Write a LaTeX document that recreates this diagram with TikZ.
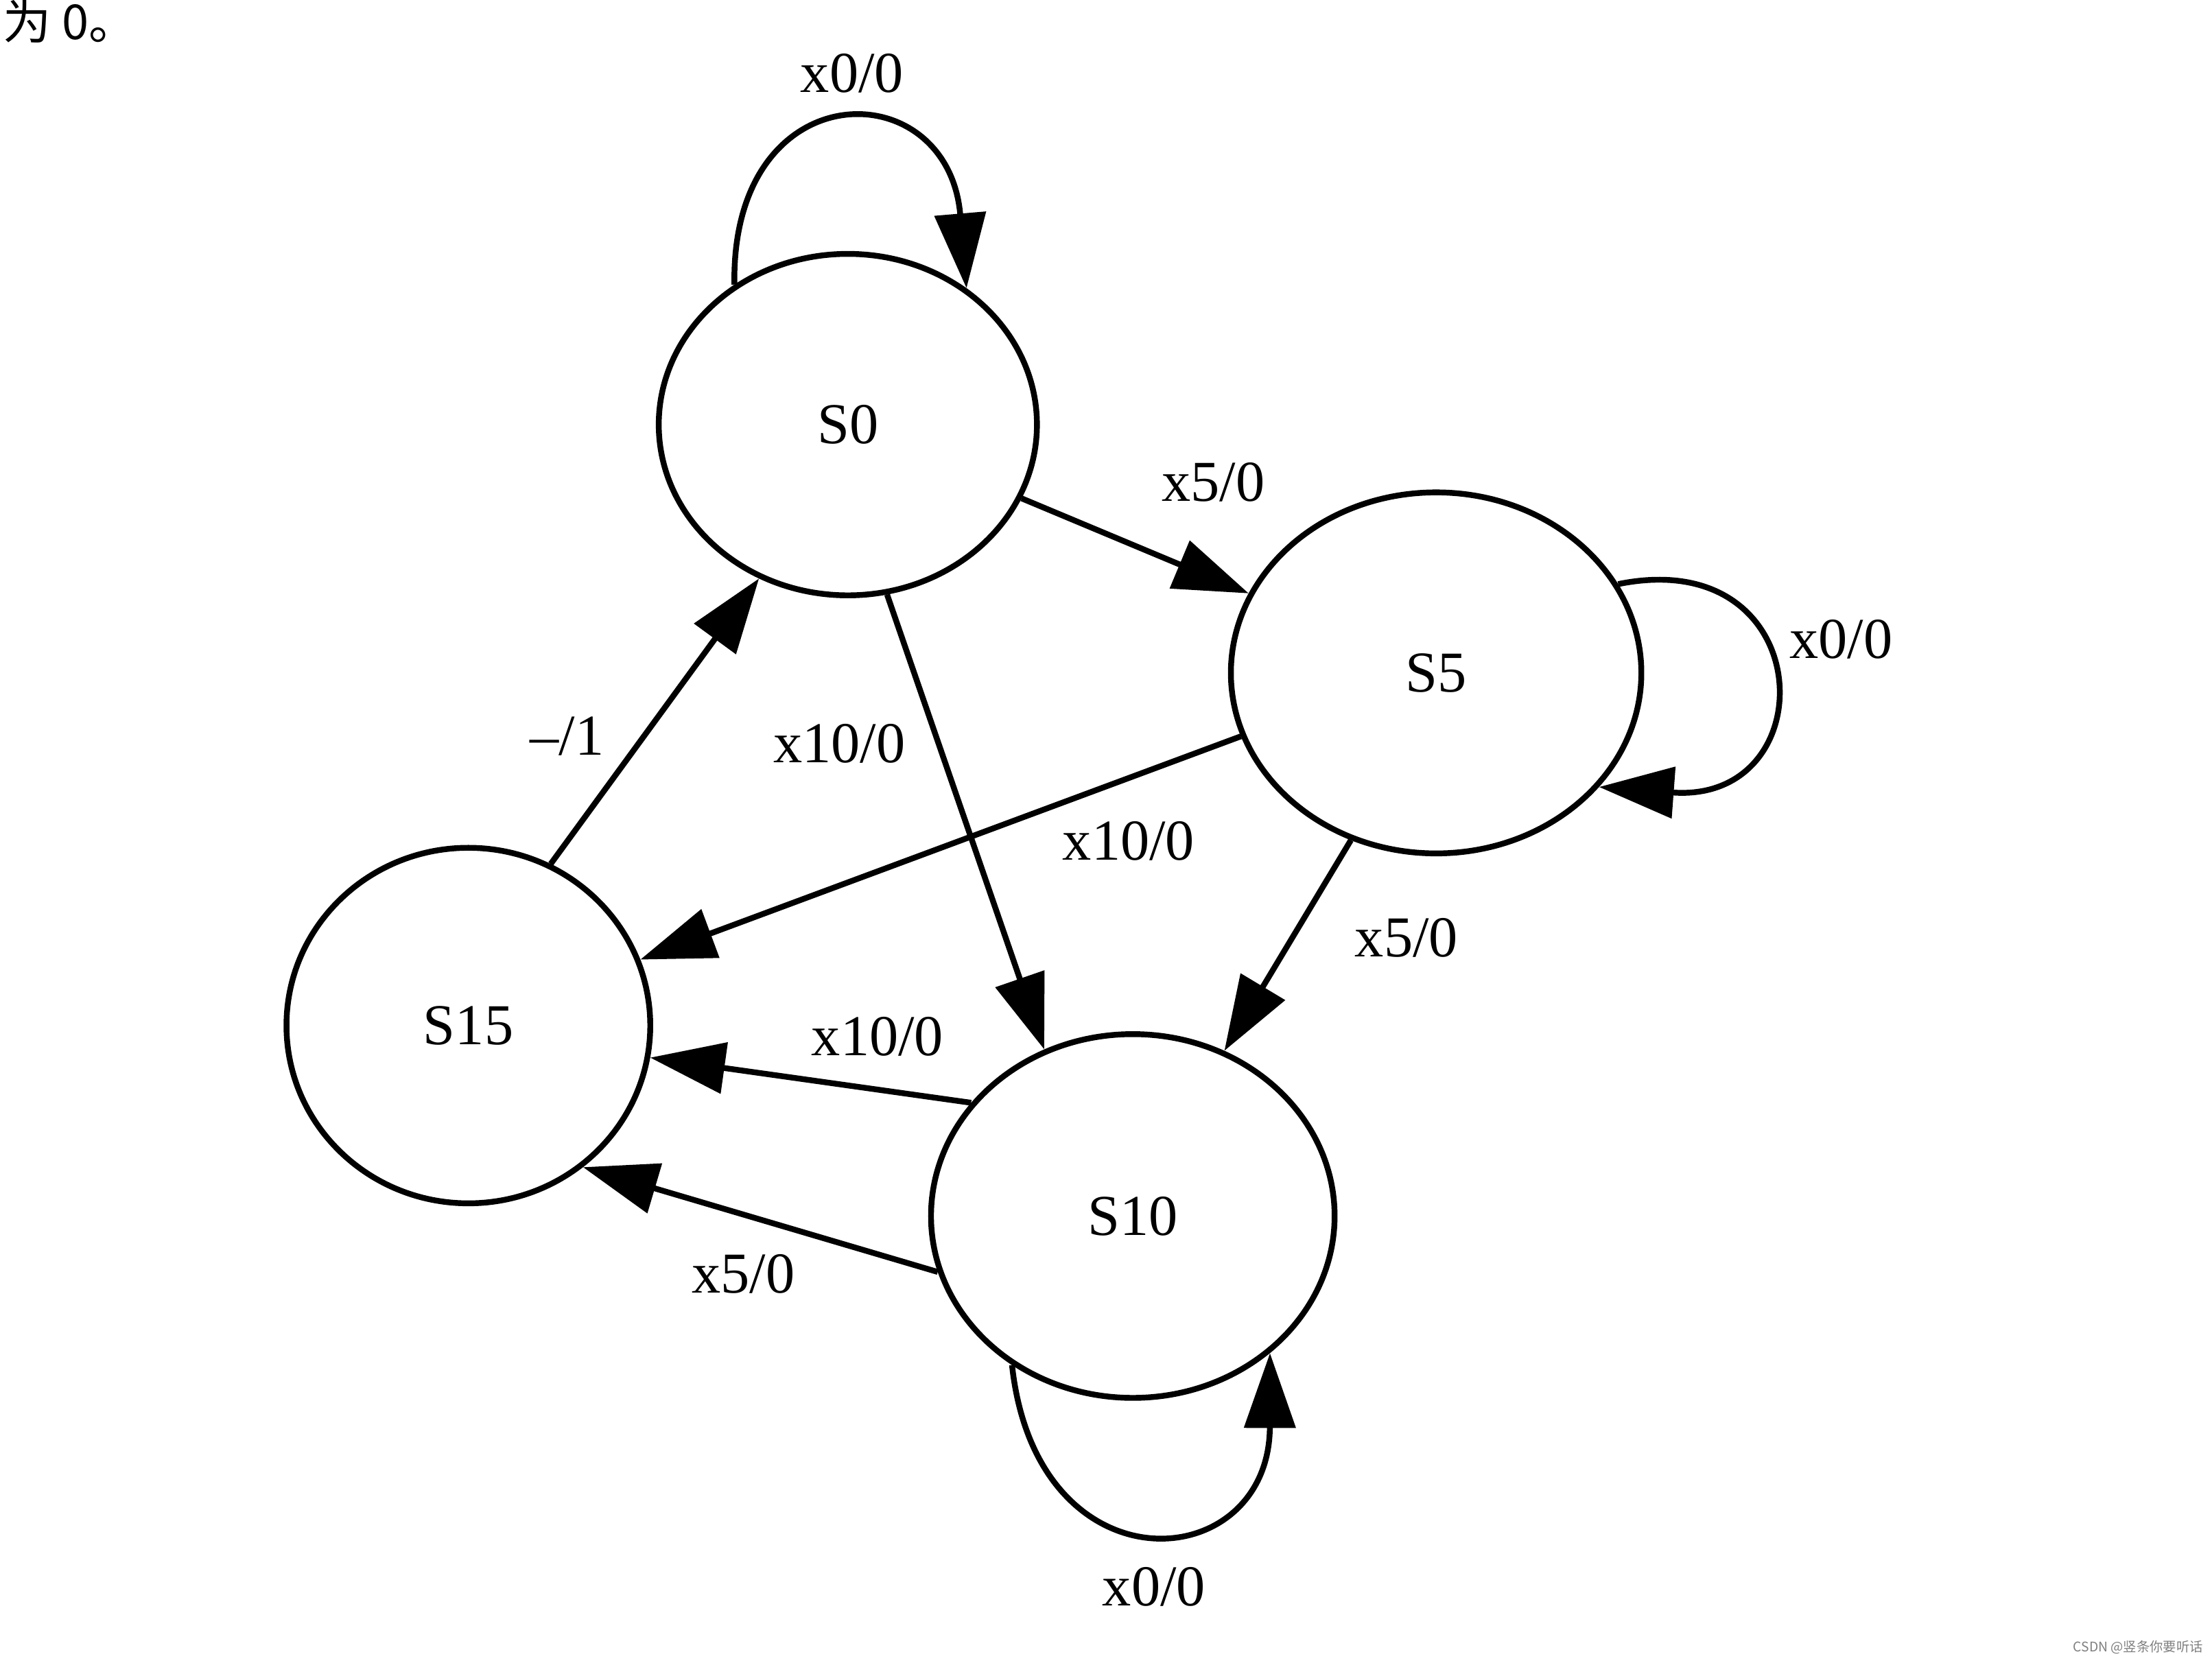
\documentclass[tikz,border=0pt]{standalone}
\usepackage{fontspec}
\setmainfont{Liberation Serif}
\newfontfamily\cjk{Noto Sans CJK SC}
\usetikzlibrary{arrows.meta,shapes.geometric}
\begin{document}
\begin{tikzpicture}[x=0.02056cm,y=-0.02056cm,
  state/.style={draw, ellipse, line width=2.4pt, inner sep=0pt, font=\fontsize{24}{28}\selectfont},
  edge/.style={line width=2.4pt, -{Triangle[length=31pt,width=21pt]}},
  lbl/.style={font=\fontsize{24}{28}\selectfont, inner sep=0pt},
]
\useasboundingbox[fill=white] (0,0) rectangle (1568,1177);

% states
\node[state, minimum width=5.51cm, minimum height=4.975cm] (S0) at (601,301) {S0};
\node[state, minimum width=5.98cm, minimum height=5.26cm] (S5) at (1018,477) {S5};
\node[state, minimum width=5.30cm, minimum height=5.18cm] (S15) at (332,727) {S15};
\node[state, minimum width=5.88cm, minimum height=5.30cm] (S10) at (803,862) {S10};

% transitions
\draw[edge] (S0.-23) -- (S5.157);
\draw[edge] (S0.283) -- (S10.118);
\draw[edge] (S5.198) -- (S15.21);
\draw[edge] (S5.243) -- (S10.61);
\draw[edge] (S15.63) -- (S0.240);
\draw[edge] (S10.145) -- (S15.350);
\draw[edge] (S10.196) -- (S15.309);

% self loops
\draw[edge] (S0.129) .. controls (518,50) and (672,50) .. (S0.49);
\draw[edge] (S5.26) .. controls (1290,385) and (1295,570) .. (S5.-35);
\draw[edge] (S10.231) .. controls (735,1130) and (900,1118) .. (S10.315);

% labels
\node[lbl] (L1) at (604,52) {x0/0};
\node[lbl] (L2) at (860,342) {x5/0};
\node[lbl] (L3) at (595,527) {x10/0};
\node[lbl] (L4) at (1305,453) {x0/0};
\node[lbl] (L5) at (800,596) {x10/0};
\node[lbl] (L6) at (997,665) {x5/0};
\node[lbl] (L7) at (402,522) {–/1};
\node[lbl] (L8) at (622,735) {x10/0};
\node[lbl] (L9) at (527,903) {x5/0};
\node[lbl] (L10) at (818,1125) {x0/0};

% page residue and watermark
\node[anchor=base west, inner sep=0pt, font=\cjk\fontsize{20}{24}\selectfont] (top) at (2,28) {为 0。};
\node[anchor=south east, inner sep=0pt, text=gray, font=\cjk\fontsize{5.5}{6}\selectfont] (wm) at (1562,1173) {CSDN @竖条你要听话};
\end{tikzpicture}
\end{document}
